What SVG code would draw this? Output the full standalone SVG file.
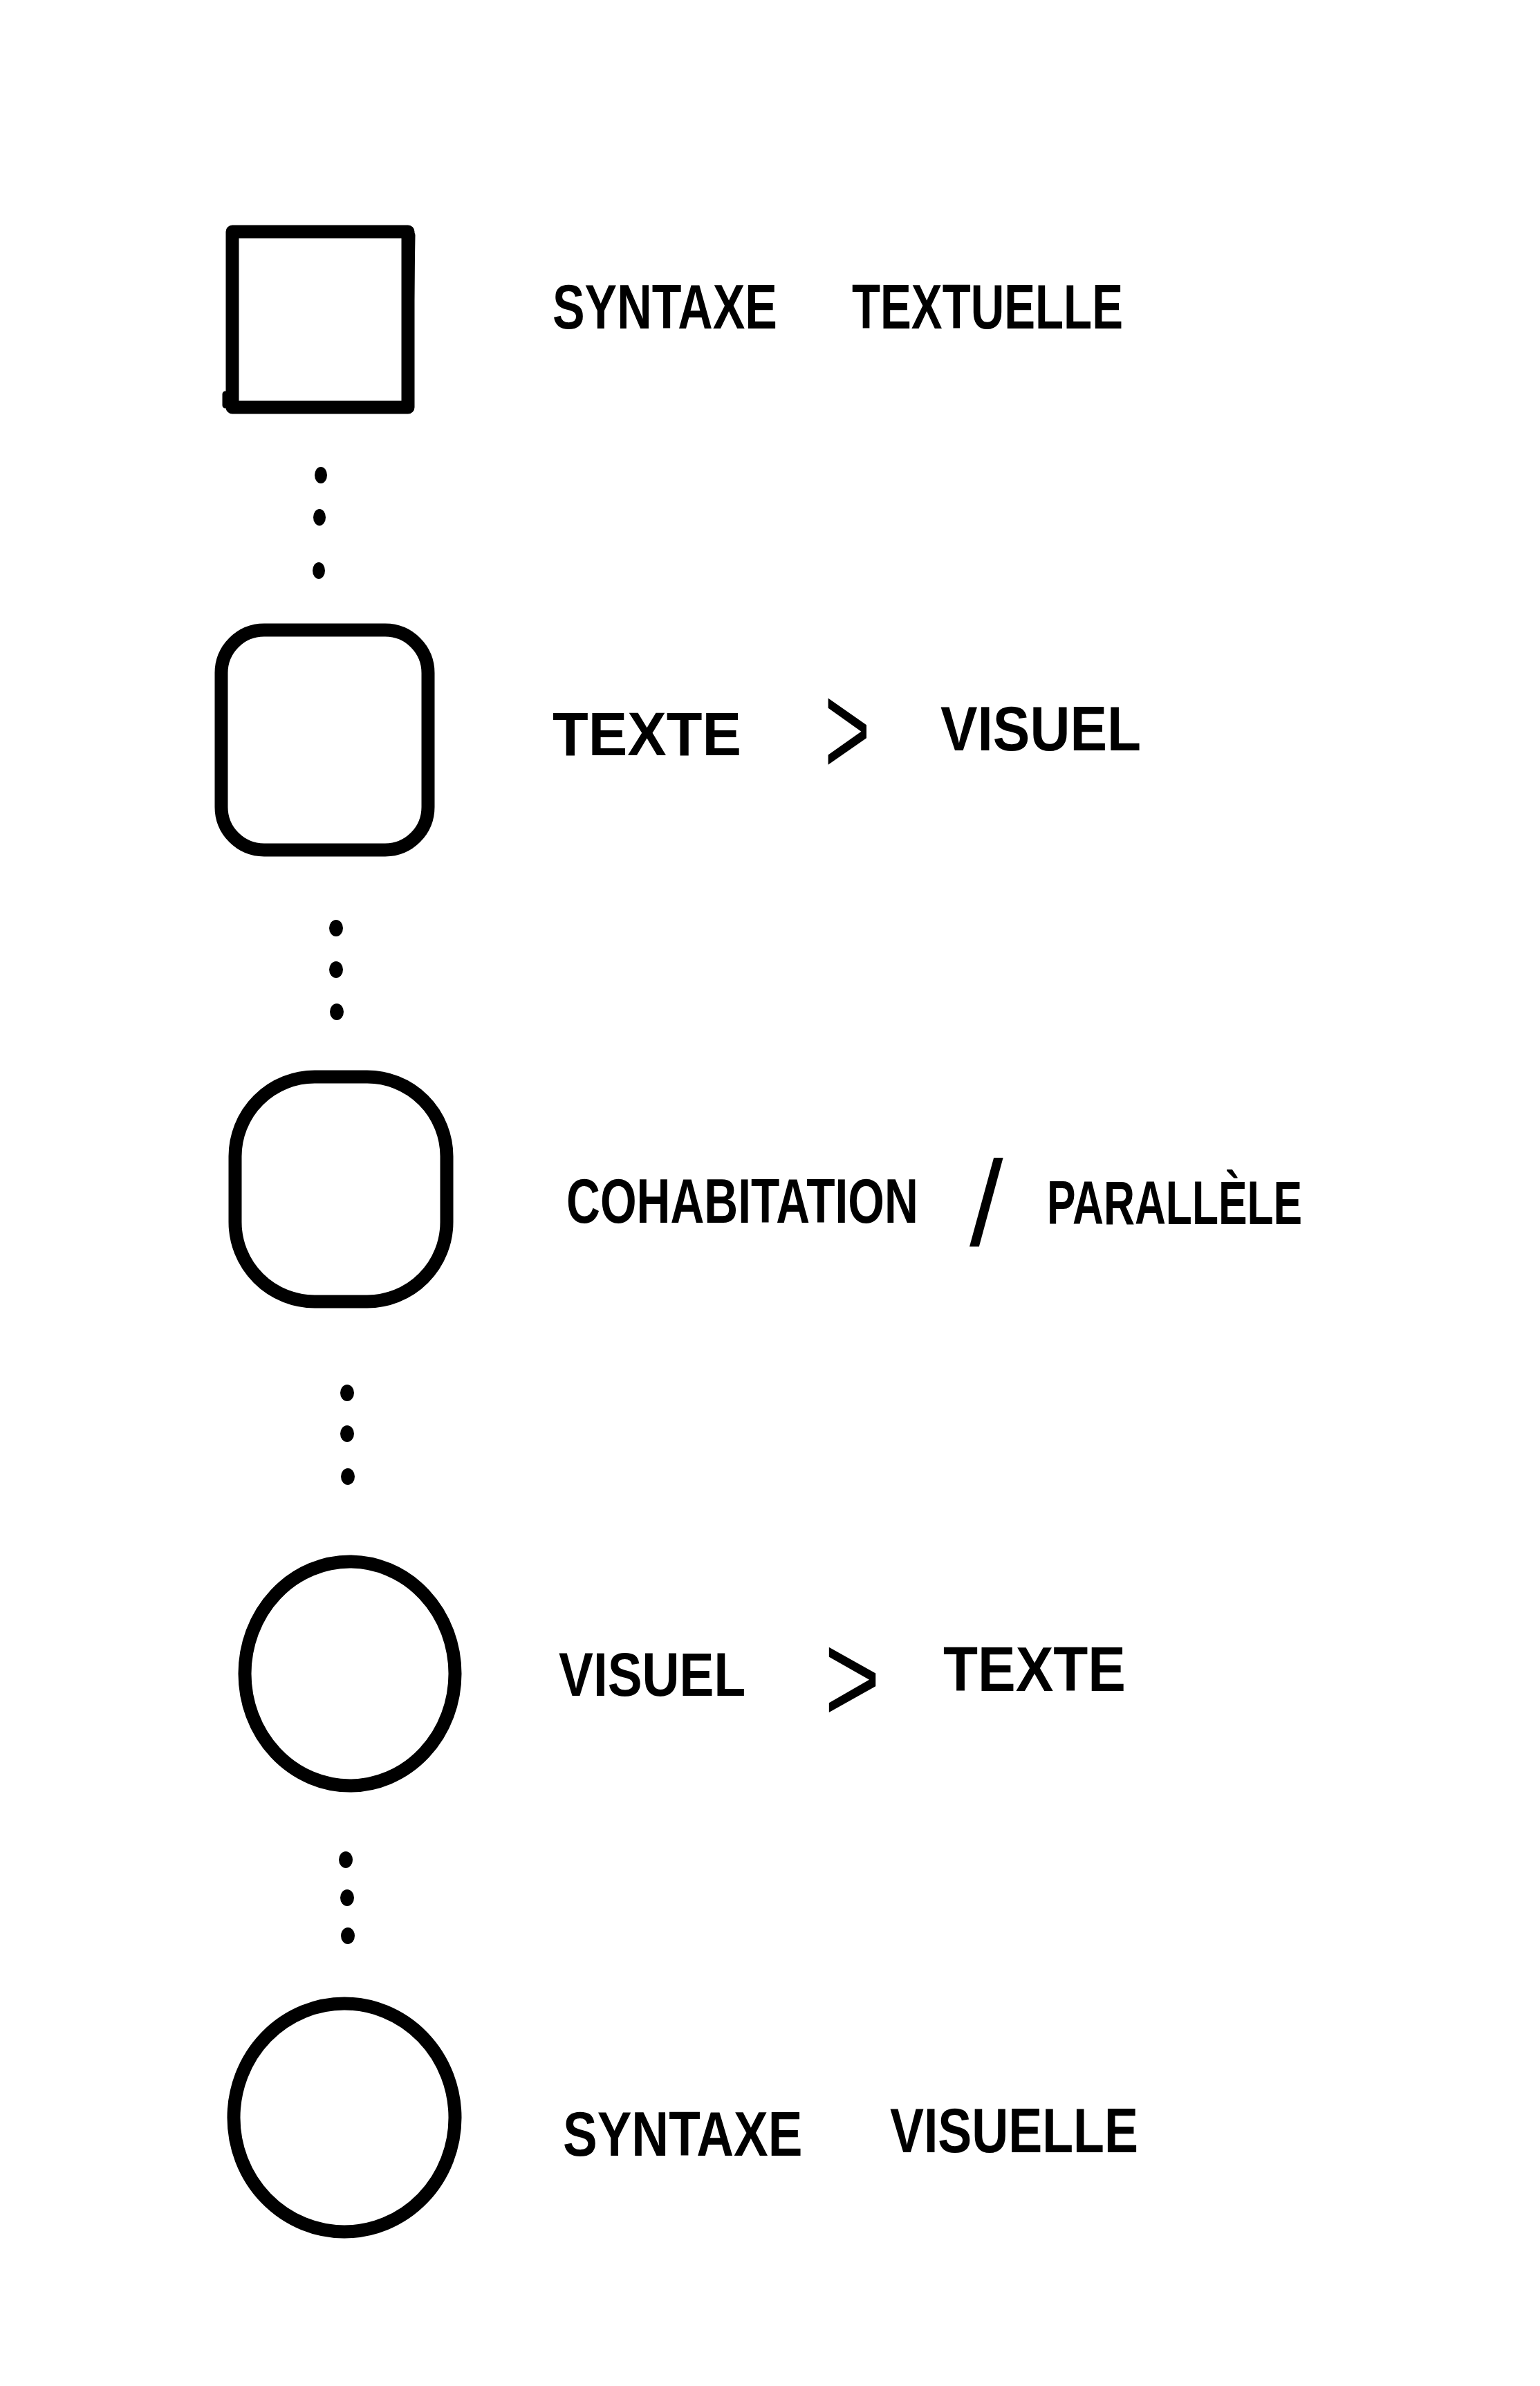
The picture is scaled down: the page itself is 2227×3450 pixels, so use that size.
<svg xmlns="http://www.w3.org/2000/svg" width="2227" height="3450" viewBox="0 0 2227 3450">
<style>
.shape{fill:none;stroke:#000;stroke-width:19;stroke-linejoin:round;stroke-linecap:round}
.thin{fill:none;stroke:#000;stroke-width:9;stroke-linecap:round}
.lbl{font-family:"Liberation Sans",Arial,sans-serif;font-weight:bold;fill:#000}
.sym{font-family:"Liberation Sans",Arial,sans-serif;fill:#000}
.dot{fill:#000}
</style>
<rect width="2227" height="3450" fill="#fff"/>
<g id="node-syntaxe-textuelle">
<rect class="shape" x="336" y="335" width="254" height="254"/>
<path class="thin" d="M596 340 L592 592 M326 570 L326 586"/>
<text class="lbl" font-size="69.9" transform="translate(799,475) scale(1,1.29)">SYNTAXE</text>
<text class="lbl" font-size="67.2" transform="translate(1232,475) scale(1,1.34)">TEXTUELLE</text>
</g>
<g id="node-texte-visuel">
<rect class="shape" x="320" y="911" width="299" height="318" rx="62" ry="62"/>
<text class="lbl" font-size="84.7" transform="translate(799,1092) scale(1,1.06)">TEXTE</text>
<text class="sym" font-size="190" transform="translate(1192,1120) scale(0.6,1)">&gt;</text>
<text class="lbl" font-size="80.3" transform="translate(1360,1085) scale(1,1.12)">VISUEL</text>
</g>
<g id="node-cohabitation">
<rect class="shape" x="340" y="1557" width="306" height="325" rx="115" ry="115"/>
<text class="lbl" font-size="67.7" transform="translate(819,1768) scale(1,1.33)">COHABITATION</text>
<text class="sym" font-size="175" x="1402" y="1800">/</text>
<text class="lbl" font-size="62.3" transform="translate(1514,1770) scale(1,1.44)">PARALLÈLE</text>
</g>
<g id="node-visuel-texte">
<ellipse class="shape" cx="506" cy="2420" rx="152" ry="162"/>
<text class="lbl" font-size="74.8" transform="translate(808,2452) scale(1,1.2)">VISUEL</text>
<text class="sym" font-size="185" transform="translate(1192,2490) scale(0.75,1)">&gt;</text>
<text class="lbl" font-size="81.9" transform="translate(1364,2445) scale(1,1.1)">TEXTE</text>
</g>
<g id="node-syntaxe-visuelle">
<ellipse class="shape" cx="498" cy="3062" rx="160" ry="165"/>
<text class="lbl" font-size="74.5" transform="translate(814,3117) scale(1,1.21)">SYNTAXE</text>
<text class="lbl" font-size="73.4" transform="translate(1287,3112) scale(1,1.23)">VISUELLE</text>
</g>
<g id="connectors">
<ellipse class="dot" cx="464" cy="687" rx="9" ry="12"/>
<ellipse class="dot" cx="462" cy="748" rx="9" ry="12"/>
<ellipse class="dot" cx="461" cy="825" rx="9" ry="12"/>
<ellipse class="dot" cx="486" cy="1342" rx="10" ry="12"/>
<ellipse class="dot" cx="486" cy="1402" rx="10" ry="12"/>
<ellipse class="dot" cx="487" cy="1463" rx="10" ry="12"/>
<ellipse class="dot" cx="502" cy="2014" rx="10" ry="12"/>
<ellipse class="dot" cx="502" cy="2073" rx="10" ry="12"/>
<ellipse class="dot" cx="503" cy="2135" rx="10" ry="12"/>
<ellipse class="dot" cx="500" cy="2689" rx="10" ry="12"/>
<ellipse class="dot" cx="502" cy="2744" rx="10" ry="12"/>
<ellipse class="dot" cx="503" cy="2799" rx="10" ry="12"/>
</g>
</svg>
